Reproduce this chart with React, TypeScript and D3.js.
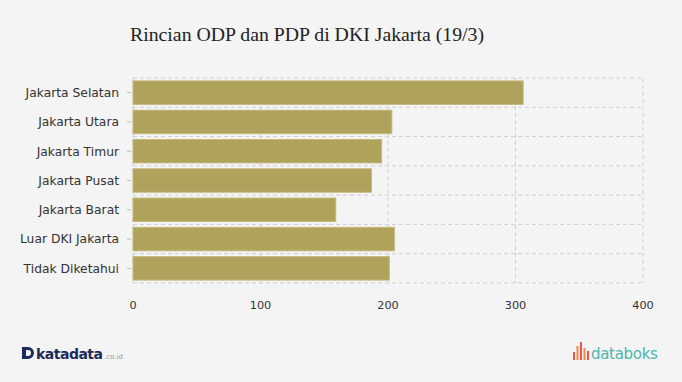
import React from "react";
import * as d3 from "d3";

const categories = ["Jakarta Selatan", "Jakarta Utara", "Jakarta Timur", "Jakarta Pusat", "Jakarta Barat", "Luar DKI Jakarta", "Tidak Diketahui"];
const values = [306, 203, 195, 187, 159, 205, 201];
const xTicks = [0, 100, 200, 300, 400];
const title = "Rincian ODP dan PDP di DKI Jakarta (19/3)";

const W = 682, H = 382;
const M = { left: 133, right: 39, top: 78, bottom: 99 };

export default function App() {
  const x = d3.scaleLinear().domain([0, 400]).range([M.left, W - M.right]);
  const y = d3.scaleBand().domain(categories).range([M.top, H - M.bottom]).paddingInner(0.2).paddingOuter(0.1);
  const bounds = d3.range(categories.length + 1).map((i) => M.top + i * ((H - M.bottom - M.top) / categories.length));
  const font = "Verdana, 'DejaVu Sans', sans-serif";
  const barIcon = [
    { h: 8, c: "#e8574a" }, { h: 14, c: "#f08a3c" }, { h: 18, c: "#e8574a" }, { h: 12, c: "#f08a3c" }, { h: 9, c: "#e8574a" },
  ];
  return (
    <svg width={W} height={H} style={{ position: "absolute", left: 0, top: 0, background: "#f4f4f4" }}>
      <rect x={0} y={0} width={W} height={H} fill="#f4f4f4" />
      <text x={130} y={41} fontFamily="'Liberation Serif', 'Times New Roman', serif" fontSize={19.8} fill="#222">{title}</text>
      {bounds.map((b, i) => (
        <line key={"h" + i} x1={M.left} x2={W - M.right} y1={b} y2={b} stroke="#cfcfcf" strokeDasharray="4,3" />
      ))}
      {xTicks.map((t) => (
        <line key={"v" + t} x1={x(t)} x2={x(t)} y1={M.top} y2={H - M.bottom} stroke="#cfcfcf" strokeDasharray="4,3" />
      ))}
      {categories.map((c, i) => (
        <rect key={c} x={x(0)} y={y(c)!} width={x(values[i]) - x(0)} height={y.bandwidth()} fill="#afa25a" stroke="#c4b77a" strokeWidth={1} />
      ))}
      {categories.map((c) => (
        <g key={"l" + c}>
          <line x1={127} x2={131} y1={y(c)! + y.bandwidth() / 2} y2={y(c)! + y.bandwidth() / 2} stroke="#bbb" />
          <text x={119} y={y(c)! + y.bandwidth() / 2} dy="0.36em" textAnchor="end" fontFamily={font} fontSize={12.3} fill="#333">{c}</text>
        </g>
      ))}
      {xTicks.map((t) => (
        <text key={"xt" + t} x={x(t)} y={309} textAnchor="middle" fontFamily={font} fontSize={11.3} fill="#333">{t}</text>
      ))}
      <g>
        <path d="M22 347 h6 a6 6 0 0 1 6 6 a6 6 0 0 1 -6 6 h-6 z M26 350 v6 h2 a3 3 0 0 0 0 -6 z" fill="#1d2b5a" fillRule="evenodd" />
        <text x={36} y={359} fontFamily="'DejaVu Sans', sans-serif" fontWeight="bold" fontSize={14} fill="#1d2b5a" letterSpacing={-0.5}>katadata</text>
        <text x={104} y={359} fontFamily="'DejaVu Sans', sans-serif" fontSize={7} fill="#8a9aa8">.co.id</text>
      </g>
      <g>
        {barIcon.map((b, i) => (
          <rect key={i} x={573 + i * 3.5} y={360 - b.h} width={2} height={b.h} fill={b.c} />
        ))}
        <text x={591} y={359} fontFamily="'DejaVu Sans', sans-serif" fontSize={15} fill="#4db6ac" letterSpacing={-0.3}>databoks</text>
      </g>
    </svg>
  );
}
